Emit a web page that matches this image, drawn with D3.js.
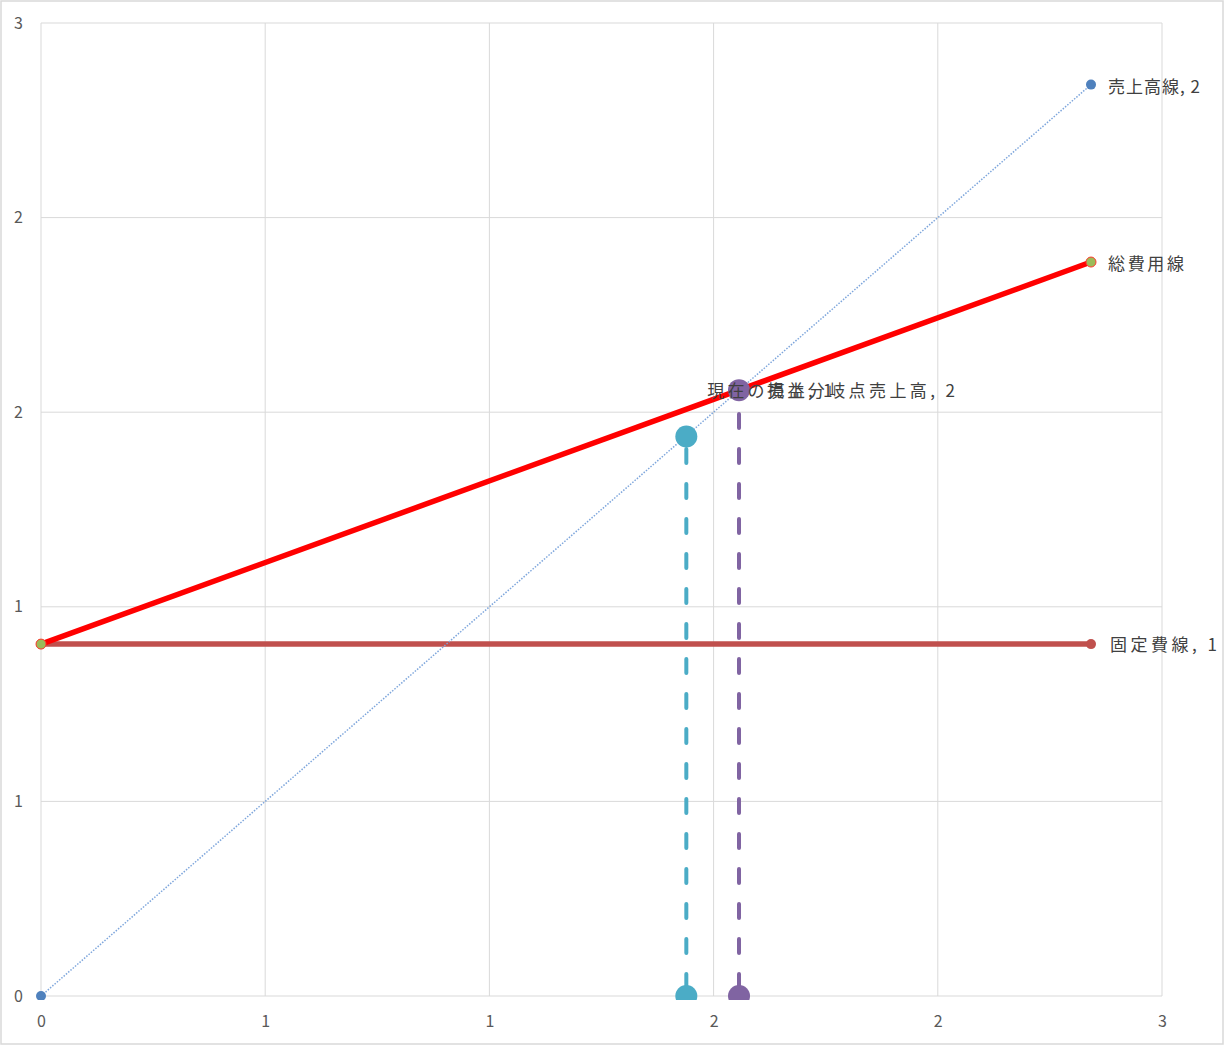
<!DOCTYPE html>
<html>
<head>
<meta charset="utf-8">
<script src="https://cdn.jsdelivr.net/npm/d3@7"></script>
<style>
  html, body { margin: 0; padding: 0; background: #fff; }
  svg { display: block; }
  text { font-family: "Noto Sans CJK JP", "Noto Sans", sans-serif; }
</style>
</head>
<body>
<script>
// ---- data ----
const tickValues = [0, 0.6, 1.2, 1.8, 2.4, 3.0];
const xTickLabels = ["0", "1", "1", "2", "2", "3"];
const yTickLabels = ["0", "1", "1", "2", "2", "3"];

const salesX = [0, 2.81];
const salesY = [0, 2.81];
const fixedX = [0, 2.81];
const fixedY = [1.085, 1.085];
const costX = [0, 2.81];
const costY = [1.085, 2.263];
const currentX = [1.727, 1.727];
const currentY = [0, 1.725];
const breakevenX = [1.868, 1.868];
const breakevenY = [0, 1.868];

const labelTexts = ["売上高線, 2", "固定費線, 1", "総費用線", "現在の売上, 1", "損益分岐点売上高, 2"];

// ---- layout ----
const W = 1225, H = 1046;
const svg = d3.select("body").append("svg").attr("width", W).attr("height", H);

svg.append("rect").attr("x", 1).attr("y", 1).attr("width", W - 3).attr("height", H - 3)
  .attr("fill", "#fff").attr("stroke", "#D9D9D9").attr("stroke-width", 1.5);

const x = d3.scaleLinear().domain([0, 3]).range([41, 1162]);
const y = d3.scaleLinear().domain([0, 3]).range([996, 23]);

// gridlines
const grid = svg.append("g");
grid.selectAll("line.v").data(tickValues).join("line")
  .attr("x1", d => x(d)).attr("x2", d => x(d)).attr("y1", y(0)).attr("y2", y(3))
  .attr("stroke", "#D9D9D9").attr("stroke-width", 1);
grid.selectAll("line.h").data(tickValues).join("line")
  .attr("y1", d => y(d)).attr("y2", d => y(d)).attr("x1", x(0)).attr("x2", x(3))
  .attr("stroke", "#D9D9D9").attr("stroke-width", 1);

// axes (labels only)
const xAxis = d3.axisBottom(x).tickValues(tickValues).tickSize(0).tickPadding(0)
  .tickFormat((d, i) => xTickLabels[i]);
const gx = svg.append("g").attr("transform", `translate(0,${y(0) + 25})`).call(xAxis);
gx.attr("font-size", null).attr("font-family", null);
gx.select(".domain").remove();
gx.selectAll("text").style("fill", "#595959").style("font-size", "16px").attr("dy", "0.35em");

const yAxis = d3.axisLeft(y).tickValues(tickValues).tickSize(0).tickPadding(0)
  .tickFormat((d, i) => yTickLabels[i]);
const gy = svg.append("g").attr("transform", `translate(${x(0) - 18},0)`).call(yAxis);
gy.attr("font-size", null).attr("font-family", null);
gy.select(".domain").remove();
gy.selectAll("text").style("fill", "#595959").style("font-size", "16px");

// clip for plot area markers
svg.append("clipPath").attr("id", "clip").append("rect")
  .attr("x", 0).attr("y", 0).attr("width", W).attr("height", y(0) + 4);

const line = d3.line().x(d => x(d[0])).y(d => y(d[1]));
const zip = (a, b) => a.map((v, i) => [v, b[i]]);

const plot = svg.append("g").attr("clip-path", "url(#clip)");

// fixed cost line
plot.append("path").datum(zip(fixedX, fixedY)).attr("d", line)
  .attr("fill", "none").attr("stroke", "#C0504D").attr("stroke-width", 5.5);
// total cost line
plot.append("path").datum(zip(costX, costY)).attr("d", line)
  .attr("fill", "none").attr("stroke", "#FF0000").attr("stroke-width", 5.5);
// sales line
plot.append("path").datum(zip(salesX, salesY)).attr("d", line)
  .attr("fill", "none").attr("stroke", "#7EA6DC").attr("stroke-width", 1.5)
  .attr("stroke-dasharray", "1.5 1.5");
// current sales line
plot.append("path").datum(zip(currentX, currentY)).attr("d", line)
  .attr("fill", "none").attr("stroke", "#4BACC6").attr("stroke-width", 4)
  .attr("stroke-linecap", "round").attr("stroke-dasharray", "14 21").attr("stroke-dashoffset", -8);
// break-even line
plot.append("path").datum(zip(breakevenX, breakevenY)).attr("d", line)
  .attr("fill", "none").attr("stroke", "#8064A2").attr("stroke-width", 4)
  .attr("stroke-linecap", "round").attr("stroke-dasharray", "14 21").attr("stroke-dashoffset", -8);

// markers
function markers(xs, ys, r, fill, stroke) {
  plot.append("g").selectAll("circle").data(zip(xs, ys)).join("circle")
    .attr("cx", d => x(d[0])).attr("cy", d => y(d[1])).attr("r", r)
    .attr("fill", fill).attr("stroke", stroke || "none").attr("stroke-width", 1);
}
markers(fixedX, fixedY, 5, "#C0504D");
markers(costX, costY, 5, "#9BBB59", "#FF3B2F");
markers(salesX, salesY, 5, "#4F81BD");
markers(currentX, currentY, 11, "#4BACC6");
markers(breakevenX, breakevenY, 11, "#8064A2");

// data labels
const lab = svg.append("g").style("font-size", "17px").style("fill", "#404040");
function label(px, py, txt, len) {
  lab.append("text").attr("x", px).attr("y", py).attr("dy", "0.35em")
    .attr("textLength", len).attr("lengthAdjust", "spacing").text(txt);
}
label(x(salesX[1]) + 17, y(salesY[1]) + 2, labelTexts[0], 92);
label(x(fixedX[1]) + 19, y(fixedY[1]) + 1, labelTexts[1], 107);
label(x(costX[1]) + 17, y(costY[1]) + 2, labelTexts[2], 76);
label(x(currentX[1]) + 21, y(currentY[1]) - 45, labelTexts[3], 125);
label(x(breakevenX[1]) + 28, y(breakevenY[1]) + 1, labelTexts[4], 188);
</script>
</body>
</html>
